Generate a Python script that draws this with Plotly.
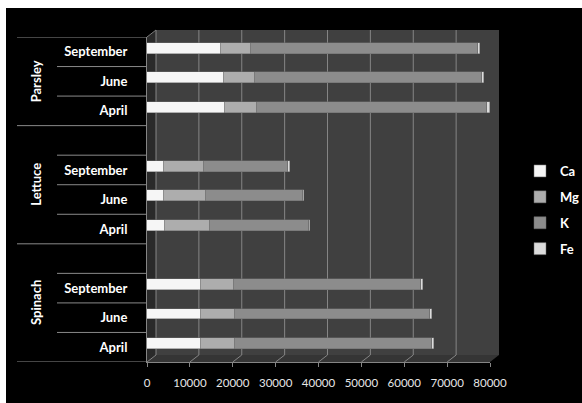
import plotly.graph_objects as go

# ---------------- data ----------------
groups = ["Spinach", "Lettuce", "Parsley"]
group_centers = [1.5, 5.5, 9.0]          # slot index centre of each group block
categories = ["Spinach|April", "Spinach|June", "Spinach|September", "Spinach|",
              "Lettuce|April", "Lettuce|June", "Lettuce|September", "Lettuce|",
              "Parsley|April", "Parsley|June", "Parsley|September"]
tick_labels = ["April", "June", "September", "",
               "April", "June", "September", "",
               "April", "June", "September"]
bar_keys = [c for c in categories if not c.endswith("|")]

ca = [12700, 12700, 12500, 4100, 4000, 4000, 18100, 17900, 17200]
mg = [7900, 7800, 7700, 10700, 9700, 9200, 7500, 7200, 7000]
k = [45900, 45500, 43700, 23000, 22700, 19800, 53800, 53000, 52900]
fe = [400, 400, 400, 300, 300, 300, 500, 500, 500]

series_names = ["Ca", "Mg", "K", "Fe"]
series_values = [ca, mg, k, fe]
series_colors = ["#f6f6f6", "#adadad", "#8c8c8c", "#dcdcdc"]

x_ticks = [0, 10000, 20000, 30000, 40000, 50000, 60000, 70000, 80000]

# ---------------- geometry (pixels) ----------------
W, H = 582, 403
L, R, T, B = 147, 490, 37, 362
PW, PH = R - L, B - T
DX, DY = 9, 7  # 3-D depth offset


def fx(px):
    return (px - L) / PW


def fy(py):
    return (B - py) / PH


fig = go.Figure()

# dummy trace to register all category slots (incl. blank ones)
fig.add_trace(go.Scatter(x=[0] * len(categories), y=categories, mode="markers",
                         marker=dict(opacity=0), showlegend=False, hoverinfo="skip"))

for name, vals, col in zip(series_names, series_values, series_colors):
    fig.add_trace(go.Bar(
        y=bar_keys, x=vals, orientation="h", name=name, legendgroup=name,
        width=0.37, offset=-0.06,
        marker=dict(color=col, line=dict(width=0.5, color="#6a6a6a")),
    ))

shapes = []
# black background panel
shapes.append(dict(type="rect", xref="paper", yref="paper", layer="below",
                   x0=fx(6), x1=fx(W + 5), y0=fy(8), y1=fy(H + 5),
                   fillcolor="black", line=dict(width=0)))
# back wall
shapes.append(dict(type="rect", xref="paper", yref="paper", layer="below",
                   x0=fx(L + DX), x1=fx(R + DX), y0=fy(B - DY), y1=fy(T - DY),
                   fillcolor="#404040", line=dict(width=0)))
# left wall
shapes.append(dict(type="path", xref="paper", yref="paper", layer="below",
                   path=f"M {fx(L)} {fy(T)} L {fx(L+DX)} {fy(T-DY)} L {fx(L+DX)} {fy(B-DY)} L {fx(L)} {fy(B)} Z",
                   fillcolor="#2a2a2a", line=dict(width=0)))
# floor
shapes.append(dict(type="path", xref="paper", yref="paper", layer="below",
                   path=f"M {fx(L)} {fy(B)} L {fx(R)} {fy(B)} L {fx(R+DX)} {fy(B-DY)} L {fx(L+DX)} {fy(B-DY)} Z",
                   fillcolor="#353535", line=dict(width=0)))
# left wall top edge
shapes.append(dict(type="line", xref="paper", yref="paper", layer="below",
                   x0=fx(L), y0=fy(T), x1=fx(L + DX), y1=fy(T - DY),
                   line=dict(color="#7a7a7a", width=1)))
# back-wall gridlines and floor diagonals
for v in x_ticks:
    shapes.append(dict(type="line", xref="x", xsizemode="pixel", xanchor=v,
                       x0=DX, x1=DX, yref="paper", y0=fy(B - DY), y1=fy(T - DY),
                       layer="below", line=dict(color="#858585", width=1)))
    shapes.append(dict(type="line", xref="x", xsizemode="pixel", xanchor=v,
                       x0=0, x1=DX, yref="paper", ysizemode="pixel", yanchor=0,
                       y0=0, y1=DY, layer="below", line=dict(color="#858585", width=1)))
# category divider lines
long_lines = [-0.5, 3.5, 7.5, 10.5]
short_lines = [0.5, 1.5, 2.5, 4.5, 5.5, 6.5, 8.5, 9.5]
for yv in long_lines:
    shapes.append(dict(type="line", xref="paper", yref="y", x0=fx(17), x1=0,
                       y0=yv, y1=yv, line=dict(color="#8a8a8a", width=1)))
for yv in short_lines:
    shapes.append(dict(type="line", xref="paper", yref="y", x0=fx(57), x1=0,
                       y0=yv, y1=yv, line=dict(color="#8a8a8a", width=1)))

annotations = []
for g, c in zip(groups, group_centers):
    annotations.append(dict(text=g, xref="paper", yref="y", x=fx(36), y=c,
                            textangle=-90, showarrow=False, xanchor="center", yanchor="middle",
                            font=dict(family="Lato", size=13, color="white", weight="bold")))

fig.update_layout(
    width=W, height=H, autosize=False,
    margin=dict(l=L, r=W - R, t=T, b=H - B, pad=0, autoexpand=False),
    paper_bgcolor="white", plot_bgcolor="rgba(0,0,0,0)",
    barmode="stack", bargap=0,
    shapes=shapes, annotations=annotations,
    showlegend=True,
    legend=dict(x=fx(520), y=fy(156), xanchor="left", yanchor="top",
                bgcolor="rgba(0,0,0,0)", traceorder="grouped", tracegroupgap=6,
                font=dict(family="Lato", size=13, color="white", weight="bold")),
    xaxis=dict(range=[0, 80000], tickvals=x_ticks, tickformat="d",
               showgrid=False, zeroline=False, showline=True, linecolor="#858585",
               ticks="outside", ticklen=4, tickcolor="#858585", ticklabelstandoff=6,
               tickfont=dict(family="Lato", size=11.5, color="#e6e6e6"), fixedrange=True),
    yaxis=dict(type="category", categoryorder="array", categoryarray=categories,
               tickmode="array", tickvals=categories, ticktext=tick_labels,
               range=[-0.5, 10.5], showgrid=False, zeroline=False,
               showline=True, linecolor="#858585", ticks="", ticklabelstandoff=16,
               tickfont=dict(family="Lato", size=13, color="white", weight="bold"),
               fixedrange=True),
)

fig.write_html("out.html")
